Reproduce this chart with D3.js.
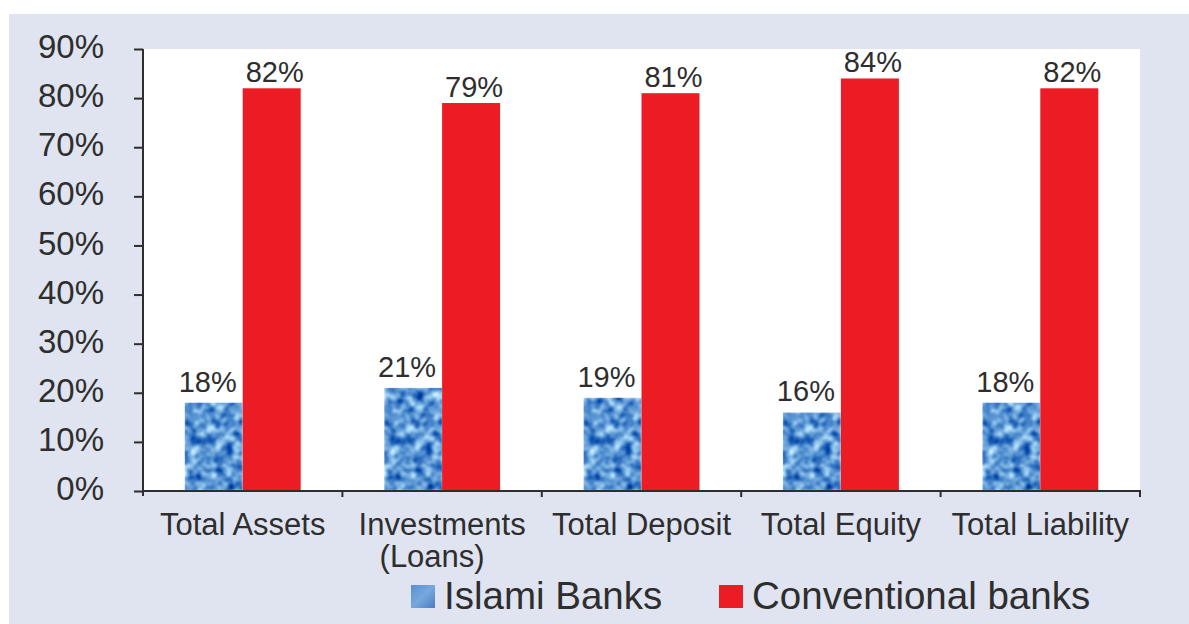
<!DOCTYPE html>
<html>
<head>
<meta charset="utf-8">
<script src="https://cdn.jsdelivr.net/npm/d3@7"></script>
<style>
  html, body { margin: 0; padding: 0; background: #ffffff; }
  svg { display: block; }
  text { font-family: "Liberation Sans", Arial, Helvetica, sans-serif; fill: #2e2e2e; }
</style>
</head>
<body>
<svg id="chart" width="1189" height="624"></svg>
<script>
// Share of the banking sector: Islami vs conventional banks
const categories = ["Total Assets", "Investments (Loans)", "Total Deposit", "Total Equity", "Total Liability"];
const categoryLines = [["Total Assets"], ["Investments", "(Loans)"], ["Total Deposit"], ["Total Equity"], ["Total Liability"]];
const seriesNames = ["Islami Banks", "Conventional banks"];
const islamiValues = [18, 21, 19, 16, 18];
const conventionalValues = [82, 79, 81, 84, 82];
const yTicks = [0, 10, 20, 30, 40, 50, 60, 70, 80, 90];

const W = 1189, H = 624;
const plot = { left: 143, right: 1140, top: 49, bottom: 491 };
const RED = "#ec1c24";
const INK = "#2e2e2e";

const svg = d3.select("#chart");
const defs = svg.append("defs");

// mottled blue texture for the Islami bars
const tex = defs.append("filter")
  .attr("id", "blueTexture")
  .attr("x", 0).attr("y", 0).attr("width", 1).attr("height", 1)
  .attr("color-interpolation-filters", "sRGB");
tex.append("feTurbulence")
  .attr("type", "fractalNoise")
  .attr("baseFrequency", 0.11)
  .attr("numOctaves", 2)
  .attr("seed", 7)
  .attr("result", "noise");
tex.append("feColorMatrix")
  .attr("in", "noise")
  .attr("type", "matrix")
  .attr("values", "1.5 0 0 0 -0.39  1.3 0 0 0 -0.06  0.7 0 0 0 0.48  0 0 0 0 1")
  .attr("result", "tint");
tex.append("feGaussianBlur").attr("in", "tint").attr("stdDeviation", 0.8).attr("result", "soft");
tex.append("feComposite").attr("in", "soft").attr("in2", "SourceGraphic").attr("operator", "in");

const legendGrad = defs.append("linearGradient")
  .attr("id", "legendBlue").attr("x1", 0).attr("y1", 0).attr("x2", 1).attr("y2", 1);
legendGrad.append("stop").attr("offset", "0%").attr("stop-color", "#5a8ecf");
legendGrad.append("stop").attr("offset", "50%").attr("stop-color", "#78a8de");
legendGrad.append("stop").attr("offset", "100%").attr("stop-color", "#4a7cbe");

// panel background
svg.append("rect").attr("x", 9).attr("y", 14).attr("width", W - 9).attr("height", H - 14)
  .attr("fill", "#dfe4f0");

// scales
const x0 = d3.scaleBand().domain(categories).range([plot.left, plot.right]).padding(0);
const x1 = d3.scaleBand().domain(seriesNames).range([0, x0.bandwidth()])
  .paddingInner(0).paddingOuter(0.719);
const y = d3.scaleLinear().domain([0, 90]).range([plot.bottom, plot.top]);

// white plot area
svg.append("rect")
  .attr("x", plot.left).attr("y", y(90))
  .attr("width", plot.right - plot.left).attr("height", y(0) - y(90))
  .attr("fill", "#ffffff");

const rows = categories.map((c, i) => ({
  cat: c,
  vals: [
    { key: seriesNames[0], v: islamiValues[i] },
    { key: seriesNames[1], v: conventionalValues[i] }
  ]
}));

const groups = svg.append("g").selectAll("g").data(rows).join("g")
  .attr("transform", d => `translate(${x0(d.cat)},0)`);

groups.selectAll("rect").data(d => d.vals).join("rect")
  .attr("x", d => x1(d.key))
  .attr("y", d => y(d.v))
  .attr("width", x1.bandwidth())
  .attr("height", d => y(0) - y(d.v))
  .attr("fill", d => d.key === seriesNames[0] ? "#6a9ed8" : RED)
  .attr("filter", d => d.key === seriesNames[0] ? "url(#blueTexture)" : null);

// value labels
groups.selectAll("text.val").data(d => d.vals).join("text")
  .attr("class", "val")
  .attr("x", d => x1(d.key) + x1.bandwidth() / 2 + (d.key === seriesNames[0] ? -6 : 3))
  .attr("y", d => y(d.v) - (d.key === seriesNames[0] ? 11 : 6))
  .attr("text-anchor", "middle")
  .style("font-size", "29px")
  .text(d => d.v + "%");

// y axis
const yAxis = svg.append("g")
  .attr("transform", `translate(${plot.left},0)`)
  .call(d3.axisLeft(y).tickValues(yTicks).tickFormat(d => d + "%").tickSize(9).tickPadding(30));
yAxis.select(".domain").attr("stroke", INK).attr("stroke-width", 2)
  .attr("d", `M0,${y(90)}V${y(0) + 5}`);
yAxis.selectAll(".tick line").attr("stroke", INK).attr("stroke-width", 2);
yAxis.selectAll(".tick text").style("font-size", "33px").attr("dy", "0.26em").attr("fill", INK);

// x axis line with tick marks at band boundaries
const xAxis = svg.append("g");
xAxis.append("line")
  .attr("x1", plot.left - 1).attr("x2", plot.right + 1)
  .attr("y1", y(0)).attr("y2", y(0))
  .attr("stroke", INK).attr("stroke-width", 2);
const boundaries = categories.map(c => x0(c)).concat([x0.range()[1]]);
xAxis.selectAll("line.tk").data(boundaries.slice(1)).join("line")
  .attr("class", "tk")
  .attr("x1", d => d).attr("x2", d => d)
  .attr("y1", y(0)).attr("y2", y(0) + 6)
  .attr("stroke", INK).attr("stroke-width", 2);

const catLabels = xAxis.selectAll("text").data(categories).join("text")
  .attr("text-anchor", "middle")
  .style("font-size", "31px")
  .attr("transform", d => `translate(${x0(d) + x0.bandwidth() / 2},535)`);
catLabels.each(function(d, i) {
  const t = d3.select(this);
  categoryLines[i].forEach((line, j) => {
    t.append("tspan").attr("x", j === 0 ? 0 : -10).attr("y", j * 32).text(line);
  });
});

// legend
const legend = svg.append("g");
const legendItems = [
  { name: seriesNames[0], x: 411, fill: "url(#legendBlue)" },
  { name: seriesNames[1], x: 719, fill: RED }
];
legend.selectAll("rect").data(legendItems).join("rect")
  .attr("x", d => d.x).attr("y", 585).attr("width", 24).attr("height", 23)
  .attr("fill", d => d.fill);
legend.selectAll("text").data(legendItems).join("text")
  .attr("x", d => d.x + 33).attr("y", 609)
  .style("font-size", "38.5px")
  .text(d => d.name);
</script>
</body>
</html>
